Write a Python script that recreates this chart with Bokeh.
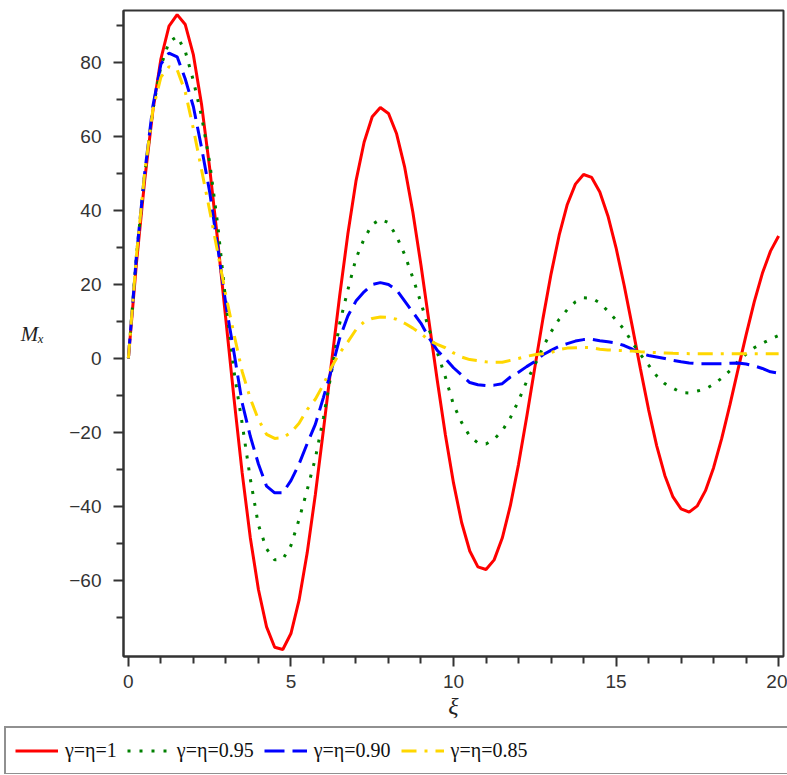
from bokeh.plotting import figure
from bokeh.models import FixedTicker, Legend, LegendItem, Range1d
from bokeh.embed import file_html
from bokeh.resources import INLINE

xi = [0.0, 0.25, 0.5, 0.75, 1.0, 1.25, 1.5, 1.75, 2.0, 2.25, 2.5, 2.75, 3.0, 3.25, 3.5, 3.75,
      4.0, 4.25, 4.5, 4.75, 5.0, 5.25, 5.5, 5.75, 6.0, 6.25, 6.5, 6.75, 7.0, 7.25, 7.5, 7.75,
      8.0, 8.25, 8.5, 8.75, 9.0, 9.25, 9.5, 9.75, 10.0, 10.25, 10.5, 10.75, 11.0, 11.25, 11.5, 11.75,
      12.0, 12.25, 12.5, 12.75, 13.0, 13.25, 13.5, 13.75, 14.0, 14.25, 14.5, 14.75, 15.0, 15.25, 15.5, 15.75,
      16.0, 16.25, 16.5, 16.75, 17.0, 17.25, 17.5, 17.75, 18.0, 18.25, 18.5, 18.75, 19.0, 19.25, 19.5, 19.75, 20.0]

m_100 = [0, 25.9, 48.0, 66.7, 80.9, 89.8, 92.9, 90.2, 82.0, 68.7, 51.5, 31.6, 10.4, -10.9, -30.9, -48.4,
         -62.4, -72.5, -78.0, -78.6, -74.3, -65.3, -52.5, -36.8, -19.3, -1.0, 17.0, 33.6, 47.9, 58.4, 65.3, 67.8,
         66.2, 60.7, 51.6, 39.5, 25.2, 9.7, -5.9, -20.6, -33.6, -44.3, -52.0, -56.3, -57.0, -54.4, -48.5, -39.7,
         -28.6, -15.9, -2.5, 10.7, 22.8, 33.3, 41.6, 47.1, 49.7, 48.9, 45.0, 38.5, 29.9, 19.7, 8.6, -2.8,
         -13.8, -23.6, -31.6, -37.4, -40.6, -41.5, -39.8, -35.7, -29.5, -21.6, -12.6, -3.0, 6.4, 15.3, 23.0, 29.0, 33.1]

m_095 = [0, 28, 49.5, 67, 79, 85.5, 87, 83, 75, 65.5, 53, 36, 15, -3.5, -17.6, -32.5,
         -45, -51.4, -54.4, -54.2, -50.5, -43.5, -35.5, -27, -16, -3.5, 9.5, 18.5, 27, 32.3, 36.2, 37.6,
         36.7, 33, 28, 21.8, 15, 7.8, 1.7, -5, -12.5, -17.3, -21, -22.8, -23.1, -21.8, -19.5, -16,
         -11.4, -6.2, -1.8, 3.0, 7.2, 10.6, 13.2, 15.3, 16.4, 16.3, 15.0, 12.8, 10.4, 7.8, 4.3, 1.1,
         -1.8, -4.7, -6.8, -8.0, -9.2, -9.3, -8.8, -8.2, -7.0, -5.3, -3.3, -0.8, 1.2, 2.9, 4.1, 5.2, 6.2]

m_090 = [0, 28, 50, 68, 79.5, 82.5, 81.5, 75.5, 68, 57, 45, 30, 14.5, 1.5, -12, -21,
         -28.5, -34.5, -36.3, -36.3, -33, -28.5, -23, -17.8, -10.5, -3, 5.5, 11.5, 15.5, 18, 20, 20.5,
         20, 18.5, 15.5, 12.5, 9.5, 5.5, 2.2, 0, -2.5, -4.5, -6.5, -7.1, -7.3, -7.2, -6.8, -5,
         -3.7, -2.2, -0.8, 1, 2.2, 3.3, 4, 4.7, 5.1, 5.2, 4.8, 4.5, 4.2, 3.5, 2.5, 1.4,
         0.8, 0.4, 0, -0.5, -0.9, -1.2, -1.4, -1.4, -1.4, -1.4, -1.3, -1.2, -1.5, -2.0, -2.7, -3.6, -4.0]

m_085 = [0, 28, 50, 67, 76, 78.8, 78, 72, 62, 51, 40, 28.5, 17, 6.5, -3.5, -10.8,
         -16.5, -20.5, -21.6, -21.4, -20, -17.5, -13.8, -11, -7, -2.3, 1.5, 4.5, 7.8, 9.9, 10.8, 11.2,
         11.1, 10.6, 9.5, 8.2, 6.7, 4.9, 3.8, 2.9, 1.5, 0.4, -0.3, -0.6, -0.9, -1.0, -1.0, -0.5,
         0, 0.6, 1.0, 1.3, 1.6, 2.4, 2.8, 2.9, 3.0, 2.9, 2.5, 2.3, 2.2, 2.1, 2.0, 1.8,
         1.7, 1.6, 1.5, 1.4, 1.35, 1.3, 1.3, 1.3, 1.3, 1.3, 1.3, 1.3, 1.3, 1.3, 1.3, 1.3, 1.3]

labels = ["γ=η=1", "γ=η=0.95", "γ=η=0.90", "γ=η=0.85"]
x_major = [0, 5, 10, 15, 20]
x_minor = [1, 2, 3, 4, 6, 7, 8, 9, 11, 12, 13, 14, 16, 17, 18, 19]
y_major = [-60, -40, -20, 0, 20, 40, 60, 80]
y_minor = [-70, -50, -30, -10, 10, 30, 50, 70, 90]

styles = [dict(line_color="#FF0000", line_width=3),
          dict(line_color="#008000", line_width=3, line_dash="3 9"),
          dict(line_color="#0000FF", line_width=3, line_dash="20 8"),
          dict(line_color="#FFD700", line_width=3, line_dash="15 8 3 8")]

p = figure(width=787, height=722, x_range=Range1d(-0.15, 20.15), y_range=Range1d(-80.5, 94),
           output_backend="svg", toolbar_location=None,
           min_border_left=123, min_border_right=4, min_border_top=10, min_border_bottom=66)

p.xgrid.visible = False
p.ygrid.visible = False
p.outline_line_color = "#333333"
p.outline_line_width = 2
p.background_fill_color = "white"

p.xaxis.ticker = FixedTicker(ticks=x_major, minor_ticks=x_minor)
p.yaxis.ticker = FixedTicker(ticks=y_major, minor_ticks=y_minor)

for ax in (p.xaxis[0], p.yaxis[0]):
    ax.axis_line_color = "#333333"
    ax.axis_line_width = 2
    ax.major_tick_line_color = "#333333"
    ax.major_tick_line_width = 2
    ax.minor_tick_line_color = "#333333"
    ax.minor_tick_line_width = 2
    ax.major_tick_in = 0
    ax.minor_tick_in = 0
    ax.major_tick_out = 10
    ax.minor_tick_out = 7
    ax.major_label_text_font = "Liberation Sans"
    ax.major_label_text_font_size = "19px"
    ax.major_label_text_color = "#333333"
    ax.axis_label_text_font = "Liberation Serif"
    ax.axis_label_text_font_style = "italic"
    ax.axis_label_text_color = "#222222"

p.xaxis.major_label_standoff = 8
p.yaxis.major_label_standoff = 12
p.xaxis.axis_label = "ξ"
p.xaxis.axis_label_text_font_size = "24px"
p.xaxis.axis_label_standoff = 2
p.yaxis.axis_label = "Mₓ"
p.yaxis.axis_label_text_font_size = "21px"
p.yaxis.axis_label_orientation = "horizontal"
p.yaxis.axis_label_standoff = 22

for ys, st in zip([m_100, m_095, m_090, m_085], styles):
    p.line(xi, ys, **st)

# legend strip below the plot (its sample lines lie outside its ranges)
q = figure(width=787, height=52, x_range=Range1d(0, 1), y_range=Range1d(0, 1),
           output_backend="svg", toolbar_location=None,
           min_border_left=0, min_border_right=0, min_border_top=0, min_border_bottom=0)
q.axis.visible = False
q.grid.visible = False
q.outline_line_color = None

items = []
for lab, st in zip(labels, styles):
    r = q.line([-2, -1], [-2, -2], **st)
    items.append(LegendItem(label=lab, renderers=[r]))
rpad = q.line([-2, -1], [-2, -2], line_alpha=0)
items.append(LegendItem(label="\u2003" * 9 + "\u2002\u2009", renderers=[rpad]))

legend = Legend(items=items, orientation="horizontal", location="top_left",
                border_line_color="#222222", border_line_width=2,
                background_fill_color="white", background_fill_alpha=1,
                label_text_font="Liberation Serif", label_text_font_size="20px",
                label_text_color="#111111",
                glyph_width=43, glyph_height=27, label_height=27,
                label_standoff=7, spacing=10, padding=9, margin=4)
q.add_layout(legend, "center")

open("out.html", "w").write(file_html([p, q], INLINE))
